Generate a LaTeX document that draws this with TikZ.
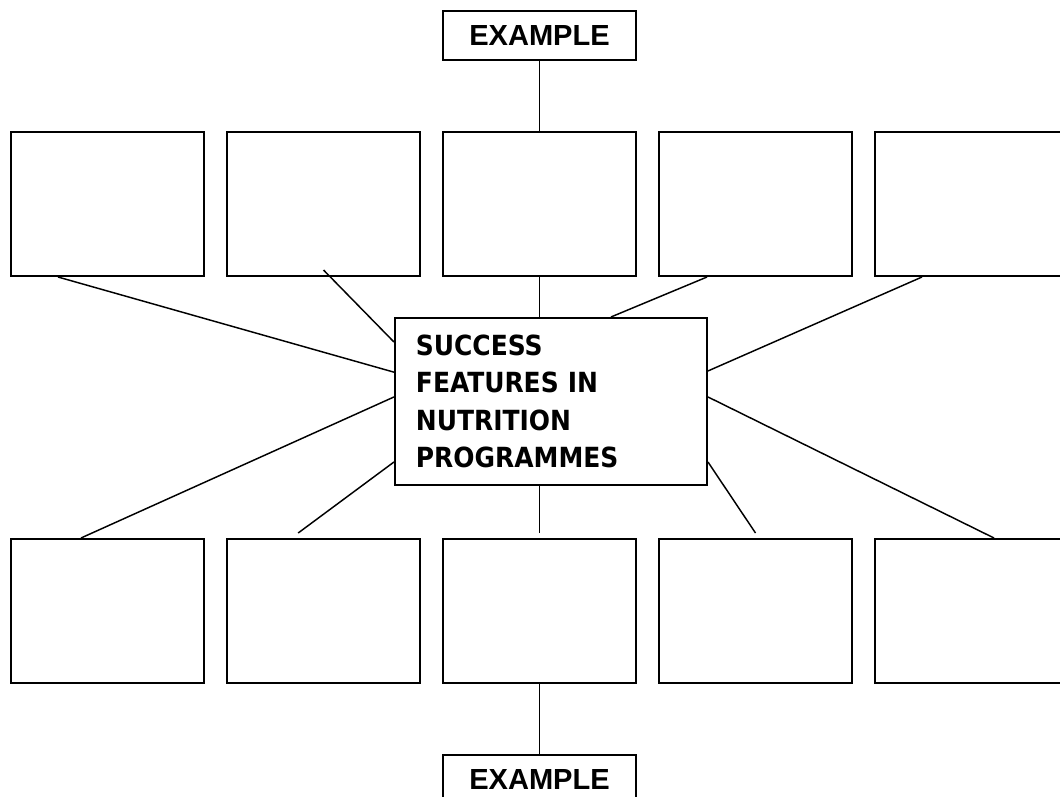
\documentclass[tikz,border=0pt]{standalone}
\usepackage{fontspec}
\setmainfont{Liberation Sans}
\newfontfamily\hubfont{DejaVu Sans Condensed}
\usepackage{tikz}
\usetikzlibrary{positioning}

\begin{document}
\begin{tikzpicture}[
    x=0.75pt, y=-0.75pt,
    node distance=15.75pt,
    cell/.style={rectangle, draw=black, line width=1.5pt, minimum width=144.75pt, minimum height=108pt, inner sep=0pt},
    tag/.style={rectangle, draw=black, line width=1.5pt, minimum width=144.75pt, minimum height=36.75pt, inner sep=0pt, font=\fontsize{21.8pt}{26pt}\selectfont\bfseries},
    hub/.style={rectangle, draw=black, fill=white, line width=1.5pt, minimum width=234pt, minimum height=125.25pt, inner xsep=15.75pt, inner ysep=0pt, text width=202.5pt, align=left, font=\hubfont\fontsize{20.8pt}{28pt}\selectfont\bfseries},
    link/.style={line width=1.1pt}
]
\useasboundingbox (0,0) rectangle (1060,796);

% Nodes
\node[cell, anchor=north west] (t1) at (10,131) {};
\node[cell, right=of t1] (t2) {};
\node[cell, right=of t2] (t3) {};
\node[cell, right=of t3] (t4) {};
\node[cell, right=of t4] (t5) {};
\node[tag, above=52.5pt of t3] (ex1) {EXAMPLE};

\node[hub, below=30pt of t3, xshift=8.6pt] (hub) {SUCCESS\\FEATURES IN\\NUTRITION\\PROGRAMMES};

\node[cell, below=195.75pt of t1] (b1) {};
\node[cell, right=of b1] (b2) {};
\node[cell, right=of b2] (b3) {};
\node[cell, right=of b3] (b4) {};
\node[cell, right=of b4] (b5) {};
\node[tag, below=52.5pt of b3] (ex2) {EXAMPLE};

% loose ends
\coordinate (t1a) at ([xshift=36pt]t1.south west);
\coordinate (t2a) at ([yshift=5.25pt]t2.south);
\coordinate (t4a) at ([xshift=36.75pt]t4.south west);
\coordinate (t5a) at ([xshift=36pt]t5.south west);
\coordinate (b1a) at ([xshift=53.25pt]b1.north west);
\coordinate (b2a) at ([xshift=-19pt, yshift=3.75pt]b2.north);
\coordinate (b3a) at ([yshift=3.75pt]b3.north);
\coordinate (b4a) at ([yshift=3.75pt]b4.north);
\coordinate (b5a) at ([xshift=90pt]b5.north west);

% Edges
\draw[link] (ex1) -- (t3);
\draw[link] (t1a) -- ([yshift=22pt]hub.west);
\draw[link] (t2a) -- ([yshift=-18.75pt]hub.north west);
\draw[link] (t3.south) -- (t3.south |- hub.north);
\draw[link] (t4a) -- ([xshift=45pt]hub.north);
\draw[link] (t5a) -- ([yshift=22.9pt]hub.east);
\draw[link] (b1a) -- ([yshift=3.4pt]hub.west);
\draw[link] (b2a) -- ([yshift=18pt]hub.south west);
\draw[link] (b3a) -- (b3a |- hub.south);
\draw[link] (b4a) -- ([yshift=18pt]hub.south east);
\draw[link] (b5a) -- ([yshift=3.4pt]hub.east);
\draw[link] (b3) -- (ex2);

\end{tikzpicture}
\end{document}
